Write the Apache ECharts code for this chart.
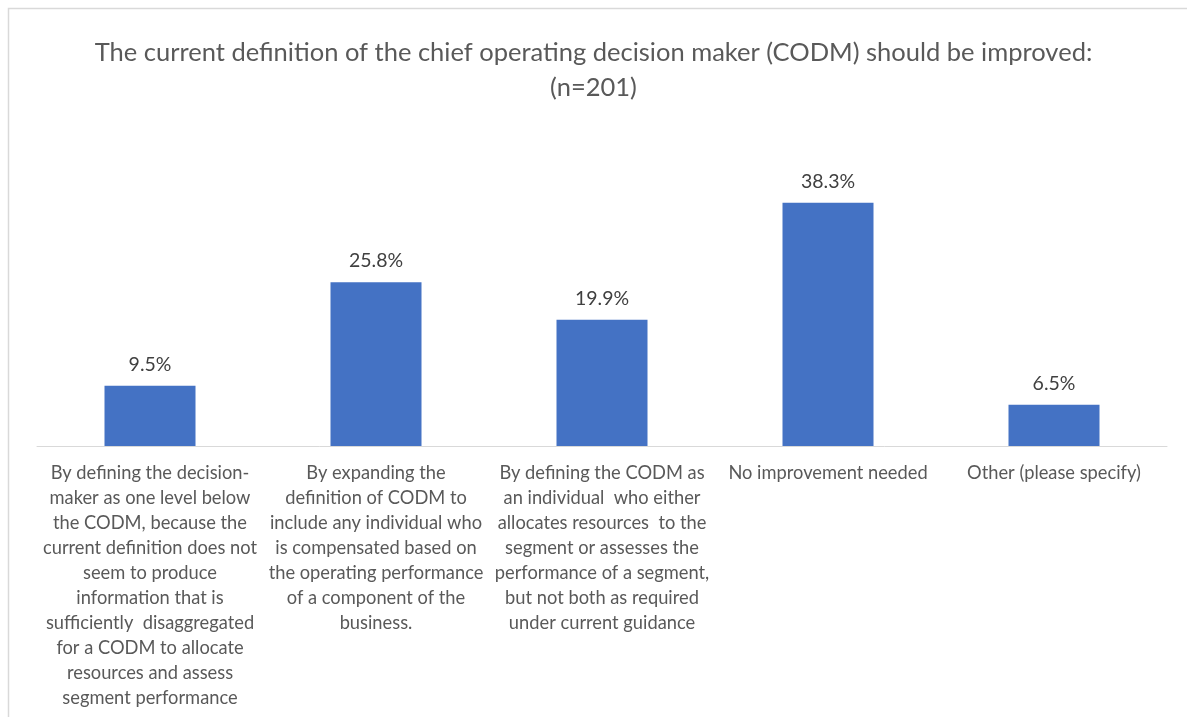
<!DOCTYPE html>
<html>
<head>
<meta charset="utf-8">
<script src="https://cdn.jsdelivr.net/npm/echarts@6/dist/echarts.min.js"></script>
<style>
  html, body { margin: 0; padding: 0; background: #fff; }
  #chart { width: 1187px; height: 717px; }
</style>
</head>
<body>
<div id="chart"></div>
<script>
// answer options (wrapped as in the original)
const categories = [
  'By defining the decision-\nmaker as one level below\nthe CODM, because the\ncurrent definition does not\nseem to produce\ninformation that is\nsufficiently  disaggregated\nfor a CODM to allocate\nresources and assess\nsegment performance',
  'By expanding the\ndefinition of CODM to\ninclude any individual who\nis compensated based on\nthe operating performance\nof a component of the\nbusiness.',
  'By defining the CODM as\nan individual  who either\nallocates resources  to the\nsegment or assesses the\nperformance of a segment,\nbut not both as required\nunder current guidance',
  'No improvement needed',
  'Other (please specify)'
]
// share of respondents, %
const shares = [9.5, 25.8, 19.9, 38.3, 6.5]

const chart = echarts.init(document.getElementById('chart'))
chart.setOption({
  animation: false,
  textStyle: { fontFamily: 'Lato' },
  title: {
    text: 'The current definition of the chief operating decision maker (CODM) should be improved:\n(n=201)',
    left: 'center',
    top: 30,
    textStyle: {
      fontFamily: 'Lato',
      fontSize: 25.5,
      fontWeight: 'normal',
      color: '#595959',
      lineHeight: 35
    }
  },
  graphic: [{
    type: 'rect',
    shape: { x: 8.5, y: 8.5, width: 1190, height: 720 },
    style: { fill: 'none', stroke: '#d9d9d9', lineWidth: 1.5 },
    silent: true
  }],
  grid: { left: 37, right: 20, top: 192, bottom: 271 },
  xAxis: {
    type: 'category',
    data: categories,
    axisTick: { show: false },
    axisLine: { lineStyle: { color: '#d9d9d9', width: 1 } },
    axisLabel: {
      interval: 0,
      margin: 15,
      fontFamily: 'Lato',
      fontSize: 18.3,
      lineHeight: 25,
      color: '#595959',
      align: 'center'
    }
  },
  yAxis: {
    type: 'value',
    min: 0,
    max: 40,
    show: false,
    splitLine: { show: false }
  },
  series: [{
    type: 'bar',
    data: shares,
    barWidth: 91,
    itemStyle: { color: '#4472C4' },
    label: {
      show: true,
      position: 'top',
      distance: 11,
      fontFamily: 'Lato',
      fontSize: 19.5,
      color: '#404040',
      formatter: p => p.value.toFixed(1) + '%'
    }
  }]
})
</script>
</body>
</html>
